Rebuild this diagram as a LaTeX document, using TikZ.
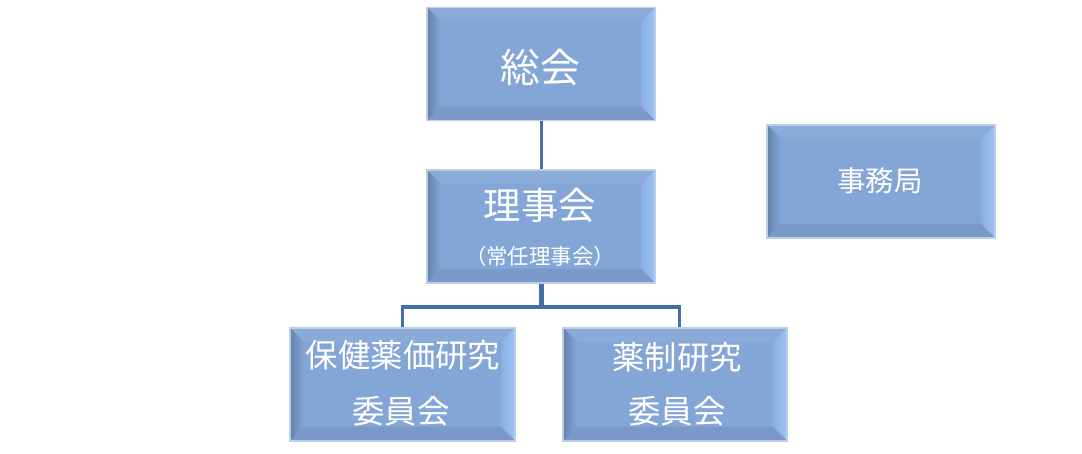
\documentclass[tikz,border=0pt]{standalone}
\usepackage{fontspec}
\newfontfamily\jp{Noto Sans CJK JP}
\definecolor{boxfill}{RGB}{132,166,214}
\definecolor{boxtop}{RGB}{138,170,216}
\definecolor{boxleft}{RGB}{121,152,198}
\definecolor{boxright}{RGB}{156,196,246}
\definecolor{boxbottom}{RGB}{122,153,200}
\definecolor{boxborder}{RGB}{188,206,230}
\definecolor{linecol}{RGB}{66,110,172}
\tikzset{
  orgbox/.style={rectangle, inner sep=0pt, minimum width=228bp, minimum height=113bp,
    fill=boxfill, draw=boxborder, line width=1.6bp,
    path picture={
      \def\bb{path picture bounding box}
      \fill[boxtop] (\bb.north west) -- (\bb.north east) -- ([shift={(-14bp,-14bp)}]\bb.north east) -- ([shift={(14bp,-14bp)}]\bb.north west) -- cycle;
      \shade[left color=boxleft!85!black!100, right color=boxfill] (\bb.north west) -- ([shift={(14bp,-14bp)}]\bb.north west) -- ([shift={(14bp,14bp)}]\bb.south west) -- (\bb.south west) -- cycle;
      \shade[left color=boxfill!70!boxright, right color=boxright] (\bb.north east) -- ([shift={(-14bp,-14bp)}]\bb.north east) -- ([shift={(-14bp,14bp)}]\bb.south east) -- (\bb.south east) -- cycle;
      \fill[boxbottom] (\bb.south west) -- ([shift={(14bp,14bp)}]\bb.south west) -- ([shift={(-14bp,14bp)}]\bb.south east) -- (\bb.south east) -- cycle;
    }},
  boxtext/.style={text=white, inner sep=0pt, font=\jp},
  conn/.style={draw=linecol, line width=3bp}
}
\begin{document}
\begin{tikzpicture}[x=1bp, y=-1bp]
\useasboundingbox (0,0) rectangle (1082,454);
% boxes
\node[orgbox] (soukai) at (541,64) {};
\node[orgbox] (rijikai) at (541,226.5) {};
\node[orgbox] (jimukyoku) at (881,181.5) {};
\node[orgbox, minimum width=225bp] (hoken) at (402.5,384.5) {};
\node[orgbox, minimum width=224bp] (yakusei) at (675,384.5) {};
% texts
\node[boxtext, font=\jp\fontsize{40}{44}\selectfont] (t1) at (540,67) {総会};
\node[boxtext, font=\jp\fontsize{37.5}{42}\selectfont] (t2) at (540,205) {理事会};
\node[boxtext, font=\jp\fontsize{21.5}{24}\selectfont] (t3) at (540,256) {（常任理事会）};
\node[boxtext, font=\jp\fontsize{28.5}{32}\selectfont] (t4) at (880,181) {事務局};
\node[boxtext, font=\jp\fontsize{32.5}{36}\selectfont] (t5) at (403,355) {保健薬価研究};
\node[boxtext, font=\jp\fontsize{32.5}{36}\selectfont] (t6) at (401,411) {委員会};
\node[boxtext, font=\jp\fontsize{32.5}{36}\selectfont] (t7) at (677,357) {薬制研究};
\node[boxtext, font=\jp\fontsize{32.5}{36}\selectfont] (t8) at (677,411) {委員会};
% connectors
\coordinate (junc) at (541,307);
\coordinate (jl) at (402,307);
\coordinate (jr) at (679,307);
\draw[conn] (soukai.south) -- (rijikai.north);
\draw[conn, line width=5bp] (rijikai.south) -- (junc);
\draw[conn, line width=4bp] ([xshift=-1.5bp]jl) -- ([xshift=1.5bp]jr);
\draw[conn] (jl) -- (jl |- hoken.north);
\draw[conn] (jr) -- (jr |- yakusei.north);
\end{tikzpicture}
\end{document}
